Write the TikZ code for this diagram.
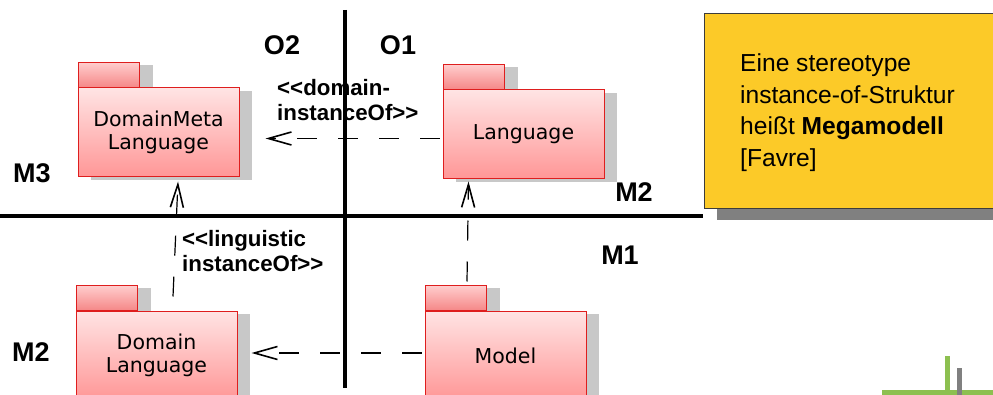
\documentclass[tikz,border=0pt]{standalone}
\usepackage{fontspec}
\setmainfont{Liberation Sans}
\newfontfamily\pkgfont{DejaVu Sans}
\usetikzlibrary{arrows.meta,shadows}
\definecolor{pkgborder}{RGB}{222,30,30}
\definecolor{pkgtop}{RGB}{255,228,228}
\definecolor{pkgbot}{RGB}{255,150,150}
\definecolor{tabtop}{RGB}{255,205,205}
\definecolor{tabbot}{RGB}{245,135,135}
\definecolor{shadowgray}{RGB}{200,200,200}
\definecolor{notefill}{RGB}{252,202,40}
\definecolor{noteborder}{RGB}{60,60,60}
\definecolor{noteshadow}{RGB}{128,128,128}
\definecolor{logogreen}{RGB}{141,192,80}
\definecolor{logogray}{RGB}{128,128,128}
\newcommand\dblless{<\kern0pt<}
\newcommand\dblgreater{>\kern0pt>}
\tikzset{
  pkgbody/.style={draw=pkgborder, line width=1pt, top color=pkgtop, bottom color=pkgbot,
    minimum width=161pt, minimum height=89pt, inner sep=0pt, align=center,
    font=\pkgfont\fontsize{20.5}{23}\selectfont,
    drop shadow={shadow xshift=13pt, shadow yshift=-3pt, fill=shadowgray, opacity=1}},
  pkgtab/.style={draw=pkgborder, line width=1pt, top color=tabtop, bottom color=tabbot,
    minimum width=61pt, minimum height=25pt, inner sep=0pt, anchor=south west,
    drop shadow={shadow xshift=13pt, shadow yshift=-3pt, fill=shadowgray, opacity=1}},
  dep/.style={line width=1.2pt, dash pattern=on 20pt off 21pt,
    -{Straight Barb[length=23pt,width=13pt,line width=1.6pt]}},
  axisline/.style={line width=3.5pt},
  lbl/.style={font=\bfseries\fontsize{22.3}{25}\selectfont, align=left, inner sep=0pt, anchor=west},
  layer/.style={font=\bfseries\fontsize{27}{30}\selectfont, inner sep=0pt},
  note/.style={draw=noteborder, line width=1pt, fill=notefill, minimum width=306pt,
    minimum height=195pt, anchor=north west, inner sep=0pt,
    drop shadow={shadow xshift=12pt, shadow yshift=-12pt, fill=noteshadow, opacity=1}},
  notetext/.style={font=\fontsize{24.6}{31.5}\selectfont, align=left, inner sep=0pt, anchor=west}
}
\begin{document}
\begin{tikzpicture}[x=1pt,y=-1pt]
\useasboundingbox (0,0) rectangle (993,395);
\clip (0,0) rectangle (993,395);

% note box
\node[note] (notebox) at (704,13) {};
\node[notetext] (notetxt) at (740,112.5) {Eine stereotype\\instance-of-Struktur\\heißt \textbf{Megamodell}\\{}[Favre]};

% axes
\coordinate (vtop) at (345,10);
\coordinate (vbot) at (345,388);
\coordinate (hl) at (0,216);
\coordinate (hr) at (703,216);
\draw[axisline] (vtop) -- (vbot);
\draw[axisline] (hl) -- (hr);

% packages: tabs first, then bodies
\node[pkgtab] (dmltab) at (78,88) {};
\node[pkgbody] (dml) at (158.5,132.5) {DomainMeta\\Language};
\node[pkgtab] (langtab) at (443,90) {};
\node[pkgbody] (lang) at (523.5,134.5) {Language};
\node[pkgtab] (dltab) at (76,311) {};
\node[pkgbody] (dl) at (156.5,355.5) {Domain\\Language};
\node[pkgtab] (modtab) at (425,311) {};
\node[pkgbody] (mod) at (505.5,355.5) {Model};

% dependencies
\coordinate (a1s) at ([shift={(-3pt,-4pt)}]lang.west);
\coordinate (a1t) at ([xshift=26pt]dml.east);
\draw[dep] (a1s) -- (a1s -| a1t);

\coordinate (a2s) at ([shift={(16.5pt,14pt)}]dl.north);
\coordinate (a2e) at ([shift={(19.5pt,-4pt)}]dml.south);
\draw[dep] (a2s) -- (a2e);

\coordinate (a3s) at ([shift={(-38.5pt,29pt)}]mod.north);
\coordinate (a3e) at ([shift={(-55pt,-2pt)}]lang.south);
\draw[dep] (a3s) -- (a3e);

\coordinate (a4s) at ([shift={(-3pt,2.5pt)}]mod.west);
\coordinate (a4t) at ([xshift=14pt]dl.east);
\draw[dep] (a4s) -- (a4s -| a4t);

% labels
\node[lbl] (lbldom) at (277,100) {\dblless domain-\\instanceOf\dblgreater};
\node[lbl] (lbllin) at (182,251.5) {\dblless linguistic\\instanceOf\dblgreater};
\node[layer] (o2) at (282,45) {O2};
\node[layer] (o1) at (398,45) {O1};
\node[layer] (m3) at (32,173) {M3};
\node[layer] (m2r) at (634,192.5) {M2};
\node[layer] (m1) at (620,255) {M1};
\node[layer] (m2l) at (31,352.5) {M2};

% logo fragment
\fill[logogreen] (882,390) rectangle (993,395);
\fill[logogreen] (945,356) rectangle (950,395);
\fill[logogray] (957,368) rectangle (962,395);
\end{tikzpicture}
\end{document}
